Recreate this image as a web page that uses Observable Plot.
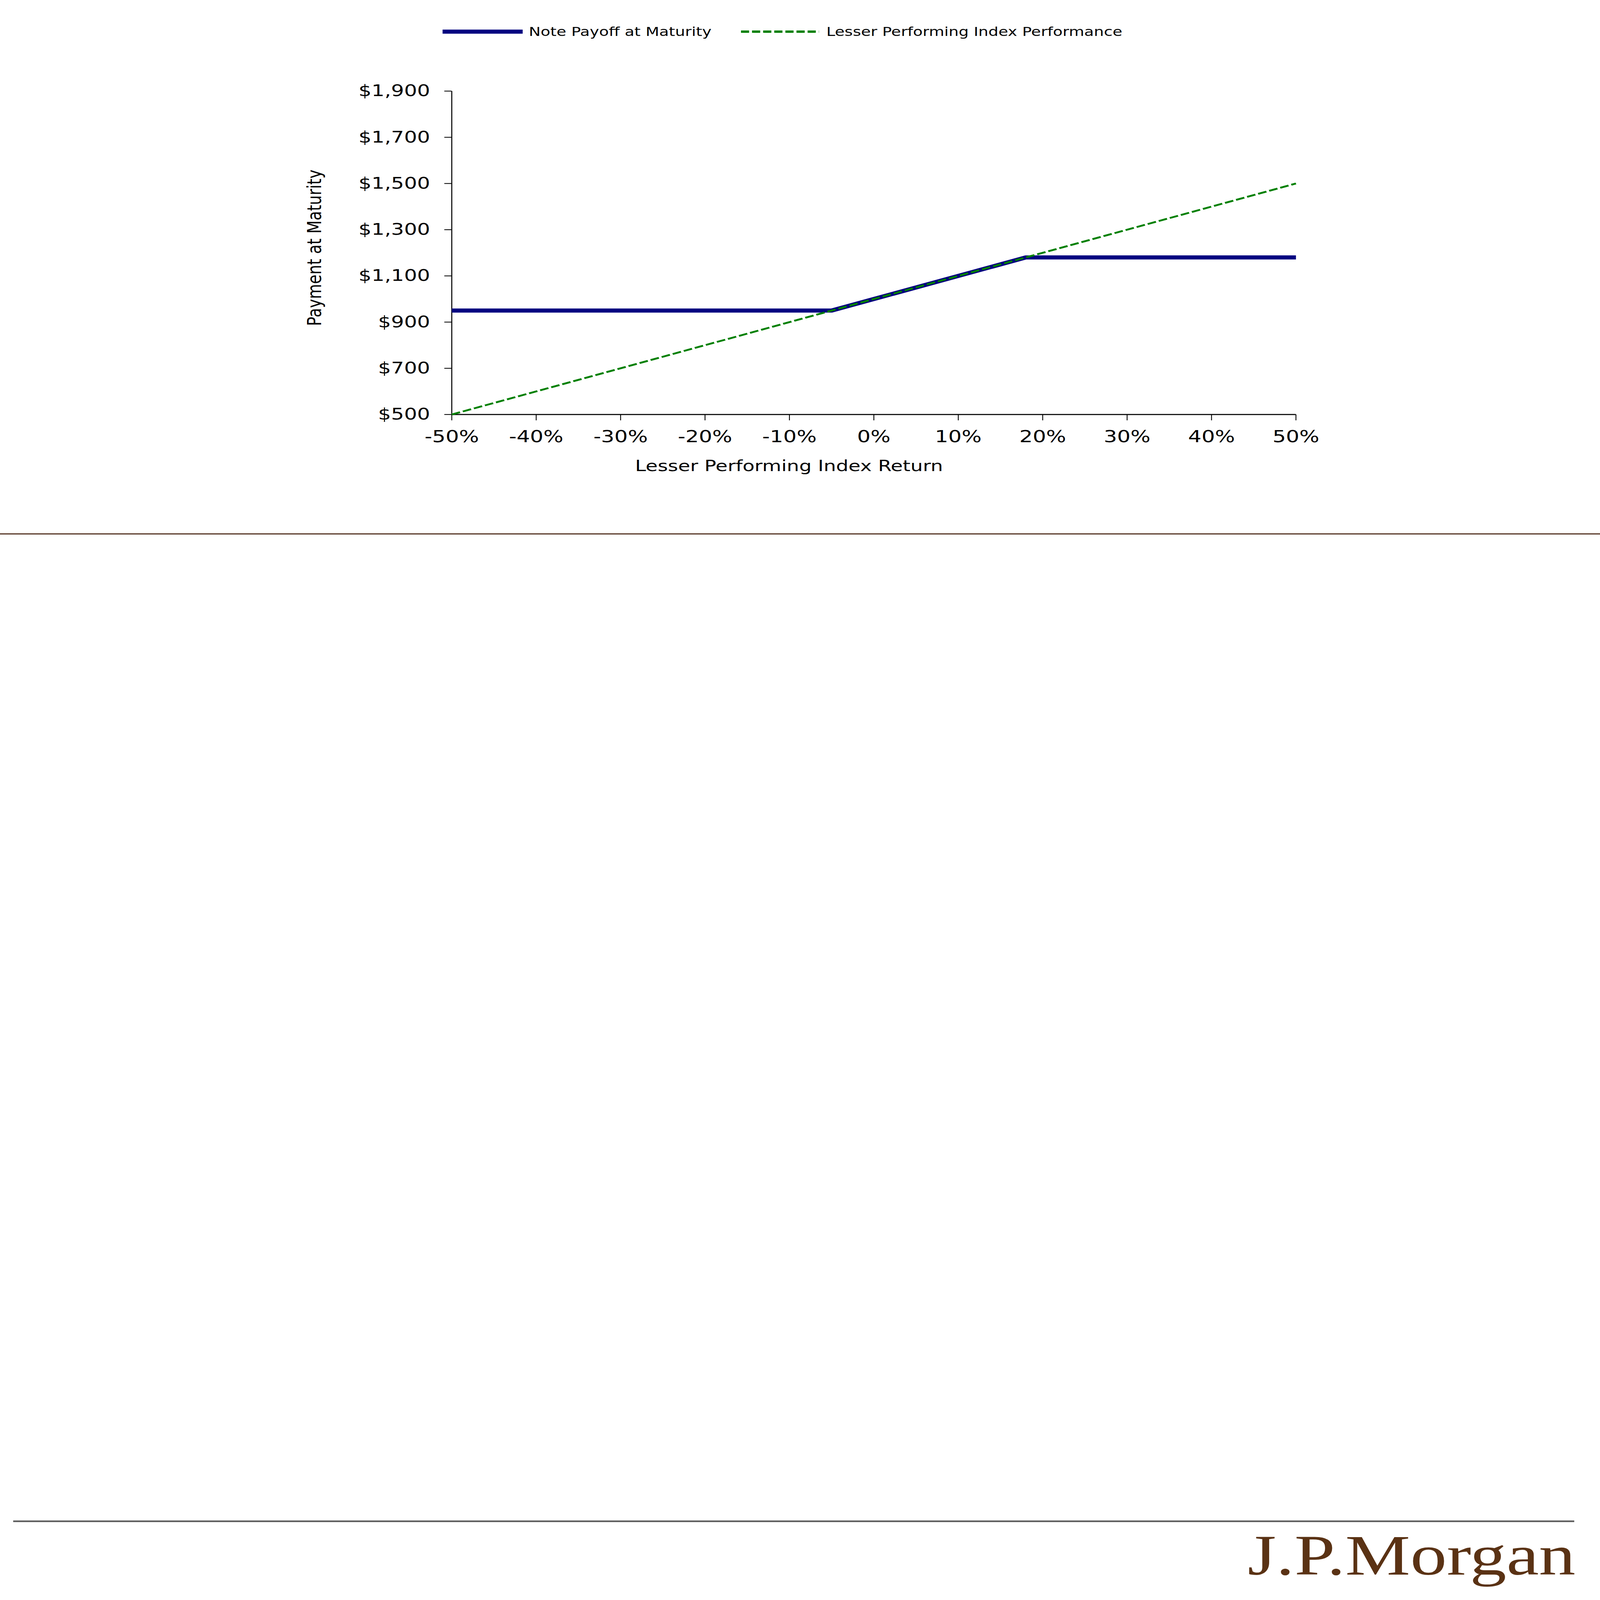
<!DOCTYPE html>
<html>
<head>
<meta charset="utf-8">
<script src="https://cdn.jsdelivr.net/npm/d3@7"></script>
<script src="https://cdn.jsdelivr.net/npm/@observablehq/plot@0.6"></script>
<style>
  html, body { margin: 0; padding: 0; background: #ffffff; overflow: hidden; width: 100vw; height: 100vh; }
  #viewport { position: fixed; left: 0; top: 0; width: 100vw; height: 100vh; overflow: hidden; }
  #page { position: absolute; left: 0; top: 0; width: 5470px; height: 6981px; overflow: hidden; transform-origin: 0 0; font-family: "DejaVu Sans", sans-serif; background: #ffffff; }
  #legend { position: relative; width: 5470px; height: 280px; }
  .lg-text { position: absolute; top: 112px; font-size: 54px; line-height: 54px; color: #000; white-space: nowrap; }
  .lg-sw { position: absolute; top: 118px; }
  #chart { position: relative; width: 5470px; }
  #rule-top { position: absolute; left: 0; top: 2327px; width: 5470px; height: 5px; background: #4f2f1f; }
  #rule-bottom { position: absolute; left: 45px; top: 6634px; width: 5337px; height: 7px; background: #5a5a5a; }
  #logo { position: absolute; right: 84px; top: 6661px; font-family: "Liberation Serif", "DejaVu Serif", serif; font-size: 250px; line-height: 250px; color: #5a3214; white-space: nowrap; }
</style>
</head>
<body>
<div id="viewport">
<div id="page">
  <div id="legend"></div>
  <div id="chart"></div>
  <div id="rule-top"></div>
  <div id="rule-bottom"></div>
  <div id="logo">J.P.Morgan</div>
</div>
</div>
<script>
// ---- data ----
const seriesNames = ["Note Payoff at Maturity", "Lesser Performing Index Performance"];
const seriesColors = ["#000080", "#008000"];
const payoffReturns = [-0.5, -0.05, 0.18, 0.5];
const payoffValues = [950, 950, 1180, 1180];
const indexReturns = [-0.5, 0.5];
const indexValues = [500, 1500];
const xTicks = [-0.5, -0.4, -0.3, -0.2, -0.1, 0, 0.1, 0.2, 0.3, 0.4, 0.5];
const yTicks = [500, 700, 900, 1100, 1300, 1500, 1700, 1900];
const xTitle = "Lesser Performing Index Return";
const yTitle = "Payment at Maturity";

const payoff = payoffReturns.map((r, i) => ({r, v: payoffValues[i]}));
const index = indexReturns.map((r, i) => ({r, v: indexValues[i]}));

// ---- fit the 5470x6981 page into whatever window is provided ----
const page = document.getElementById("page");
const sx = window.innerWidth / 5470, sy = window.innerHeight / 6981;
page.style.transform = `scale(${sx}, ${sy})`;

// ---- legend (HTML above the chart) ----
const legend = document.getElementById("legend");
legend.innerHTML = `
  <svg class="lg-sw" style="left:1513px" width="274" height="40"><line x1="0" x2="274" y1="20" y2="20" stroke="${seriesColors[0]}" stroke-width="18"/></svg>
  <span class="lg-text" style="left:1808px">${seriesNames[0]}</span>
  <svg class="lg-sw" style="left:2533px" width="267" height="40"><line x1="0" x2="267" y1="20" y2="20" stroke="${seriesColors[1]}" stroke-width="10" stroke-dasharray="28,10"/></svg>
  <span class="lg-text" style="left:2825px">${seriesNames[1]}</span>
`;

// ---- chart ----
const chart = Plot.plot({
  width: 5470,
  height: 2000,
  marginTop: 117,
  marginBottom: 472,
  marginLeft: 1544,
  marginRight: 1040,
  style: {fontFamily: "DejaVu Sans, sans-serif", fontSize: "70px", background: "#ffffff", color: "#000", overflow: "visible"},
  x: {domain: [-0.5, 0.5]},
  y: {domain: [500, 1900]},
  marks: [
    Plot.axisY({ticks: yTicks, tickSize: 25, tickPadding: 49, strokeWidth: 3.5, fontSize: 70,
      tickFormat: d => "$" + d3.format(",")(d), label: null}),
    Plot.axisX({ticks: xTicks, tickSize: 26, tickPadding: 44, strokeWidth: 3, fontSize: 72,
      tickFormat: d => `${Math.round(d * 100)}%`, label: null}),
    Plot.ruleX([-0.5], {stroke: "#000", strokeWidth: 3.5}),
    Plot.ruleY([500], {stroke: "#000", strokeWidth: 4.5}),
    Plot.line(payoff, {x: "r", y: "v", stroke: seriesColors[0], strokeWidth: 18, strokeLinejoin: "miter", strokeLinecap: "butt"}),
    Plot.line(index, {x: "r", y: "v", stroke: seriesColors[1], strokeWidth: 8, strokeDasharray: "30,10", strokeLinecap: "butt"}),
    Plot.text([yTitle], {frameAnchor: "left", rotate: -90, dx: -468, dy: -22, textAnchor: "middle", lineAnchor: "middle", fontSize: 67, fill: "#000"}),
    Plot.text([xTitle], {frameAnchor: "bottom", dx: -290, dy: 225, textAnchor: "middle", lineAnchor: "middle", fontSize: 67, fill: "#000"})
  ]
});
document.getElementById("chart").appendChild(chart);
</script>
</body>
</html>
